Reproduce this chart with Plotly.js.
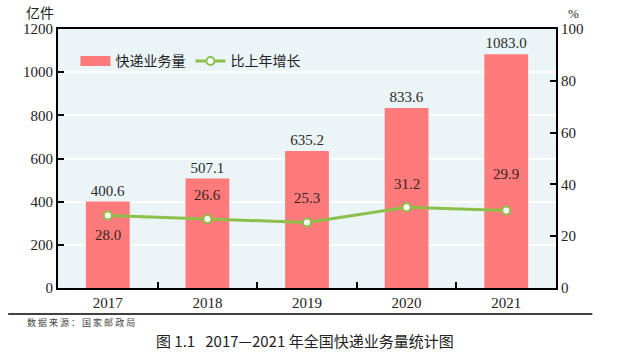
<!DOCTYPE html>
<html>
<head>
<meta charset="utf-8">
<script src="https://cdn.plot.ly/plotly-3.0.1.min.js"></script>
<style>html,body{margin:0;padding:0;background:#fff;}#chart{width:617px;height:359px;}</style>
</head>
<body>
<div id="chart"></div>
<script>
const years = ['2017', '2018', '2019', '2020', '2021'];
const volume = [400.6, 507.1, 635.2, 833.6, 1083.0];
const growth = [28.0, 26.6, 25.3, 31.2, 29.9];
const growthLabelShift = [-20, 24, 24, 23, 37];

const serif = '"Liberation Serif", "DejaVu Serif", serif';
const cjk = '"Noto Sans CJK SC", sans-serif';
const barColor = '#ff7b7b';
const lineColor = '#8cc04a';

const traces = [
  {
    type: 'bar', name: '快递业务量', x: years, y: volume, showlegend: false,
    marker: {color: barColor}, width: 0.44,
    texttemplate: '%{y:.1f}', textposition: 'outside', cliponaxis: false,
    textfont: {family: serif, size: 15, color: '#2a2a2a'},
    hoverinfo: 'skip'
  },
  {
    /* legend swatch only: wide flat rectangle like the reference legend */
    type: 'scatter', mode: 'lines', name: '快递业务量', x: [null], y: [null],
    line: {color: barColor, width: 10}, hoverinfo: 'skip'
  },
  {
    type: 'scatter', mode: 'lines+markers', name: '比上年增长', x: years, y: growth,
    yaxis: 'y2',
    line: {color: lineColor, width: 3},
    marker: {size: 8, color: '#ffffff', line: {color: lineColor, width: 2}},
    hoverinfo: 'skip'
  }
];

const annotations = years.map((yr, i) => ({
  x: i, y: growth[i], xref: 'x', yref: 'y2',
  text: growth[i].toFixed(1), showarrow: false, yshift: growthLabelShift[i],
  font: {family: serif, size: 15, color: '#3a1f1f'}
}));

annotations.push(
  {xref: 'paper', yref: 'paper', x: -0.068, y: 1.0, yshift: 17, xanchor: 'left', yanchor: 'middle',
   text: '亿件', showarrow: false, font: {family: cjk, size: 14, color: '#222'}},
  {xref: 'paper', yref: 'paper', x: 1.02, y: 1.0, yshift: 16, xanchor: 'left', yanchor: 'middle',
   text: '%', showarrow: false, font: {family: serif, size: 13, color: '#222'}},
  {xref: 'paper', yref: 'paper', x: -0.066, y: 0, yshift: -34, xanchor: 'left', yanchor: 'middle',
   text: '数 据 来 源 ： 国 家 邮 政 局', showarrow: false, font: {family: cjk, size: 9, color: '#444'}},
  {xref: 'paper', yref: 'paper', x: 0.495, y: 0, yshift: -52, xanchor: 'center', yanchor: 'middle',
   text: '图 1.1 &nbsp;&nbsp;2017—2021 年全国快递业务量统计图', showarrow: false,
   font: {family: cjk, size: 15, color: '#222'}}
);

const layout = {
  width: 617, height: 359,
  margin: {l: 58, r: 61, t: 29, b: 71},
  paper_bgcolor: '#ffffff', plot_bgcolor: '#ebf4f7',
  showlegend: true,
  legend: {orientation: 'h', x: 0.035, y: 0.875, xanchor: 'left', yanchor: 'middle',
           bgcolor: 'rgba(0,0,0,0)', font: {family: cjk, size: 14, color: '#222'},
           itemwidth: 30, traceorder: 'normal'},
  xaxis: {
    type: 'category', range: [-0.5, 4.5], showline: true, linecolor: '#000', linewidth: 2, mirror: true,
    ticks: 'inside', tickson: 'boundaries', ticklen: 6, tickwidth: 2, tickcolor: '#000',
    showgrid: false, tickfont: {family: serif, size: 15, color: '#222'}, zeroline: false
  },
  yaxis: {
    range: [0, 1200], dtick: 200, showline: true, linecolor: '#000', linewidth: 2,
    ticks: 'inside', ticklen: 6, tickwidth: 2, tickcolor: '#000',
    showgrid: true, gridcolor: '#ffffff', gridwidth: 2, zeroline: false,
    tickfont: {family: serif, size: 15, color: '#222'}
  },
  yaxis2: {
    range: [0, 100], dtick: 20, overlaying: 'y', side: 'right', showline: true,
    linecolor: '#000', linewidth: 2, ticks: 'inside', ticklen: 6, tickwidth: 2, tickcolor: '#000',
    showgrid: false, zeroline: false, tickfont: {family: serif, size: 15, color: '#222'}
  },
  shapes: [
    {type: 'line', xref: 'paper', yref: 'paper', x0: -0.1, x1: 1.073,
     ysizemode: 'pixel', yanchor: 0, y0: -26, y1: -26, line: {color: '#000', width: 1.5}}
  ],
  annotations: annotations
};

Plotly.newPlot('chart', traces, layout, {staticPlot: true});
</script>
</body>
</html>
